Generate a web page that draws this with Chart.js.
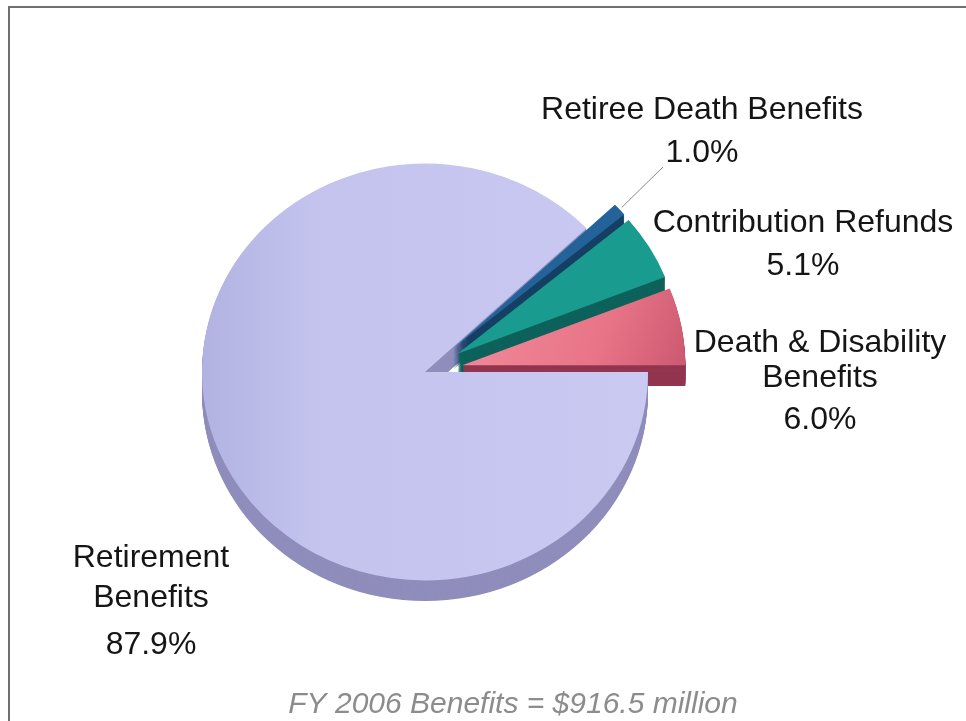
<!DOCTYPE html>
<html>
<head>
<meta charset="utf-8">
<title>FY 2006 Benefits</title>
<script src="https://cdn.jsdelivr.net/npm/chart.js@4/dist/chart.umd.min.js"></script>
<style>
  html, body { margin: 0; padding: 0; background: #ffffff; }
  #wrap { position: relative; width: 966px; height: 721px; }
</style>
</head>
<body>
<div id="wrap"><canvas id="chart"></canvas></div>
<script>
// Benefit categories, in clockwise order starting at 3 o'clock
const categories = [
  ['Retirement', 'Benefits'],
  ['Retiree Death Benefits'],
  ['Contribution Refunds'],
  ['Death & Disability', 'Benefits']
];
// Share of FY 2006 benefits paid, percent
const shares = [87.9, 1.0, 5.1, 6.0];
// Slices pulled away from the main pie
const exploded = [false, true, true, true];
const footnote = 'FY 2006 Benefits = $916.5 million';

// Styling
const topColors  = ['#c4c4ef', '#24629a', '#1a9b90', '#ec7a8c'];
const sideColors = ['#8f8dbb', '#163f64', '#0e625c', '#93354f'];
const EXPLODE = 38;      // px the small slices are pulled out
const DEPTH = 22;        // pie thickness (before tilt)
const TILT = 0.935;      // vertical squash for the 3-D look
const RADIUS = 223;
const FONT = '"Liberation Sans", Arial, Helvetica, sans-serif';

// Label anchor points (center of first text line) and line spacing
const labelLayout = [
  { x: 151, y: 558, lines: [0, 40, 87] },
  { x: 702, y: 110, lines: [0, 43] },
  { x: 803, y: 223, lines: [0, 43] },
  { x: 820, y: 343, lines: [0, 35, 77] }
];

function pieCenter(chart) {
  const a = chart.getDatasetMeta(0).data[0];
  return { x: a.x, y: a.y };
}

// Move exploded slices outward along their mid angle
const explodePlugin = {
  id: 'explode',
  afterDatasetUpdate(chart, args) {
    args.meta.data.forEach((arc, i) => {
      if (!exploded[i]) return;
      const mid = (arc.startAngle + arc.endAngle) / 2;
      arc.x += Math.cos(mid) * EXPLODE;
      arc.y += Math.sin(mid) * EXPLODE;
    });
  }
};

// Tilt the pie and extrude it to give it thickness
const depthPlugin = {
  id: 'depth',
  beforeDatasetsDraw(chart) {
    const ctx = chart.ctx;
    const meta = chart.getDatasetMeta(0);
    const c = pieCenter(chart);
    ctx.save();
    ctx.translate(c.x, c.y);
    ctx.scale(1, TILT);
    ctx.translate(-c.x, -c.y);
    for (let d = DEPTH; d >= 1; d--) {
      meta.data.forEach((arc, i) => {
        ctx.beginPath();
        ctx.moveTo(arc.x, arc.y + d);
        ctx.arc(arc.x, arc.y + d, arc.outerRadius, arc.startAngle, arc.endAngle);
        ctx.closePath();
        ctx.fillStyle = sideColors[i];
        ctx.fill();
      });
    }
  },
  afterDatasetsDraw(chart) {
    chart.ctx.restore();
  }
};

// Frame, category labels, leader line and footnote
const annotatePlugin = {
  id: 'annotate',
  beforeDraw(chart) {
    const ctx = chart.ctx;
    ctx.save();
    ctx.fillStyle = '#ffffff';
    ctx.fillRect(0, 0, chart.width, chart.height);
    ctx.restore();
  },
  afterDraw(chart) {
    const ctx = chart.ctx;
    const meta = chart.getDatasetMeta(0);
    const c = pieCenter(chart);
    ctx.save();

    // frame
    ctx.strokeStyle = '#6f6f6f';
    ctx.lineWidth = 2;
    ctx.strokeRect(9, 7, chart.width + 20, chart.height + 20);

    // leader line to the thin slice
    const arc = meta.data[1];
    const mid = (arc.startAngle + arc.endAngle) / 2;
    const px = arc.x + Math.cos(mid) * arc.outerRadius;
    const py = c.y + (arc.y + Math.sin(mid) * arc.outerRadius - c.y) * TILT;
    ctx.strokeStyle = '#8a8a8a';
    ctx.lineWidth = 1;
    ctx.beginPath();
    ctx.moveTo(663, 167);
    ctx.lineTo(px + 2, py - 2);
    ctx.stroke();

    // labels
    ctx.fillStyle = '#151515';
    ctx.font = '32px ' + FONT;
    ctx.textAlign = 'center';
    ctx.textBaseline = 'middle';
    categories.forEach((lines, i) => {
      const L = labelLayout[i];
      const texts = lines.concat([shares[i].toFixed(1) + '%']);
      texts.forEach((t, j) => ctx.fillText(t, L.x, L.y + L.lines[j]));
    });

    // footnote
    ctx.fillStyle = '#8c8c8c';
    ctx.font = 'italic 30px ' + FONT;
    ctx.fillText(footnote, 513, 705);
    ctx.restore();
  }
};

function topFill(context) {
  const i = context.dataIndex;
  const chart = context.chart;
  const ctx = chart.ctx;
  if (i === 0) {
    const g = ctx.createLinearGradient(200, 0, 650, 0);
    g.addColorStop(0, '#b2b2e2');
    g.addColorStop(0.25, '#c3c3ee');
    g.addColorStop(1, '#c9c9f2');
    return g;
  }
  if (i === 3) {
    const g = ctx.createLinearGradient(470, 290, 690, 370);
    g.addColorStop(0, '#f08a9a');
    g.addColorStop(0.6, '#e87487');
    g.addColorStop(1, '#c9576f');
    return g;
  }
  return topColors[i];
}

new Chart(document.getElementById('chart'), {
  type: 'pie',
  data: {
    labels: categories,
    datasets: [{
      data: shares,
      backgroundColor: topFill,
      borderWidth: 0,
      clip: false
    }]
  },
  options: {
    responsive: true,
    maintainAspectRatio: false,
    animation: false,
    events: [],
    rotation: 90,
    radius: RADIUS,
    layout: { padding: { left: 0, right: 116, top: 23, bottom: 0 } },
    plugins: {
      legend: { display: false },
      tooltip: { enabled: false },
      title: { display: false }
    }
  },
  plugins: [explodePlugin, depthPlugin, annotatePlugin]
});
</script>
</body>
</html>
